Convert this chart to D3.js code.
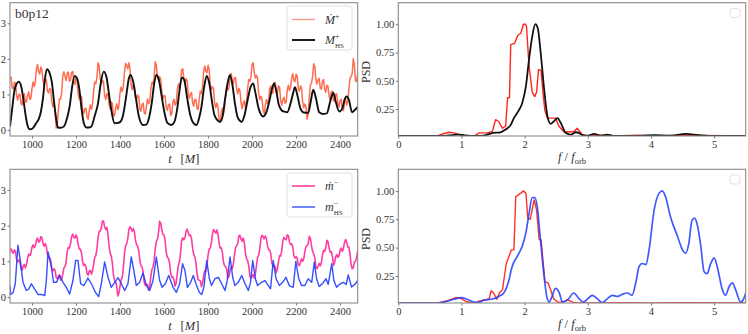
<!DOCTYPE html>
<html><head><meta charset="utf-8">
<script src="https://cdn.jsdelivr.net/npm/d3@7"></script>
<style>
body{margin:0;background:#fff}
svg{display:block}
text{font-family:"Liberation Serif","Times New Roman","DejaVu Serif",serif;fill:#333}
</style>
</head><body>
<svg id="c" width="748" height="334"></svg>
<script>
// ---------- data ----------
const timeStart = 900, timeStep = 5;            // sampling grid of the noisy series
const timeTicks = [1000,1200,1400,1600,1800,2000,2200,2400];
const leftYTicks = [0,1,2,3];
const freqTicks = [0,1,2,3,4,5];
const psdTicks = [0.25,0.5,0.75,1.0];

const mdotPlus = [
1.45,1.48,1.20,1.15,1.34,1.31,0.96,0.84,1.00,1.00,0.75,0.70,0.97,1.02,0.79,0.79,0.98,1.07,0.86,0.89,
1.17,1.35,1.22,1.35,1.72,1.84,1.64,1.57,1.77,1.70,1.38,1.25,1.43,1.41,1.10,1.04,1.17,1.13,0.79,0.65,
0.76,0.56,0.05,0.19,0.57,0.88,0.87,1.06,1.53,1.64,1.50,1.39,1.60,1.63,1.37,1.40,1.62,1.64,1.36,1.28,
1.46,1.38,1.00,0.87,0.97,0.93,0.57,0.45,0.60,0.61,0.37,0.30,0.54,0.70,0.58,0.74,1.10,1.35,1.30,1.47,
1.89,1.81,1.43,1.30,1.40,1.35,0.97,0.86,1.02,1.00,0.73,0.60,0.79,0.74,0.40,0.40,0.60,0.74,0.57,0.68,
1.04,1.21,1.08,1.22,1.60,1.87,1.82,1.72,1.89,1.72,1.30,1.13,1.27,1.23,0.91,0.85,0.98,0.94,0.60,0.53,
0.72,0.75,0.47,0.45,0.67,0.87,0.74,0.80,1.14,1.34,1.30,1.45,1.92,1.83,1.47,1.39,1.50,1.42,1.04,0.88,
0.97,0.95,0.62,0.55,0.72,0.73,0.41,0.46,0.78,0.86,0.70,0.75,1.12,1.29,1.17,1.33,1.69,1.72,1.45,1.32,
1.45,1.38,1.00,0.89,1.02,1.05,0.76,0.67,0.86,0.85,0.60,0.58,0.87,1.09,1.02,1.23,1.64,1.80,1.65,1.61,
1.82,1.70,1.27,1.13,1.22,1.15,0.76,0.62,0.76,0.64,0.28,0.22,0.47,0.61,0.47,0.64,1.00,1.21,1.12,1.18,
1.49,1.59,1.38,1.31,1.47,1.47,1.15,1.02,1.17,1.09,0.76,0.60,0.76,0.82,0.60,0.79,1.17,1.42,1.37,1.48,
1.85,1.89,1.62,1.46,1.54,1.45,1.03,0.85,0.95,0.88,0.57,0.46,0.67,0.85,0.74,0.85,1.16,1.24,1.02,1.04,
1.32,1.34,1.05,1.03,1.24,1.20,0.83,0.70,0.85,0.92,0.75,0.78,1.12,1.26,1.11,1.19,1.46,1.58,1.40,1.36,
1.57,1.52,1.17,1.09,1.24,1.17,0.78,0.62,0.73,0.64,0.30,0.45,0.92,1.26,1.31,1.49,1.86,1.79,1.42,1.29,
1.42,1.45,1.17,1.15,1.37,1.42,1.14,1.06,1.26,1.23,0.95,0.85,1.07,1.09,0.82,0.81,1.00,1.01,0.72,0.65,
0.84,0.86,0.58,0.55,0.75,0.89,0.70,0.79,1.16,1.45,1.50,1.59,2.00,1.83,1.38,1.36,1.60];

const mdotMinus = [
1.30,1.35,1.26,1.23,1.32,1.27,1.05,0.98,1.04,0.98,0.80,0.75,0.86,0.91,0.82,0.91,1.09,1.20,1.16,1.22,
1.40,1.46,1.38,1.43,1.59,1.65,1.54,1.55,1.69,1.66,1.50,1.42,1.50,1.42,1.20,1.11,1.11,1.02,0.79,0.73,
0.79,0.74,0.54,0.51,0.60,0.62,0.47,0.49,0.65,0.81,0.85,0.98,1.27,1.39,1.37,1.49,1.70,1.76,1.67,1.65,
1.74,1.67,1.46,1.34,1.34,1.24,0.98,0.88,0.92,0.85,0.66,0.61,0.72,0.75,0.64,0.73,0.91,1.11,1.16,1.35,
1.66,1.83,1.85,1.93,2.13,2.13,1.97,1.89,1.95,1.76,1.45,1.22,1.15,0.96,0.62,0.47,0.42,0.30,0.03,0.11,
0.30,0.49,0.54,0.82,1.21,1.43,1.49,1.62,1.89,1.97,1.92,1.84,1.92,1.83,1.60,1.47,1.43,1.30,1.03,0.88,
0.84,0.70,0.41,0.32,0.35,0.35,0.19,0.31,0.57,0.77,0.84,1.02,1.35,1.56,1.62,1.82,2.12,2.07,1.87,1.75,
1.74,1.57,1.25,1.11,1.08,0.96,0.67,0.55,0.56,0.49,0.30,0.39,0.64,0.88,0.98,1.23,1.58,1.66,1.60,1.66,
1.84,1.90,1.81,1.72,1.74,1.63,1.36,1.18,1.13,0.95,0.65,0.48,0.47,0.45,0.29,0.40,0.60,0.74,0.73,0.89,
1.17,1.34,1.37,1.51,1.77,1.89,1.84,1.79,1.88,1.76,1.52,1.37,1.38,1.25,0.98,0.87,0.85,0.76,0.53,0.58,
0.74,0.84,0.79,0.93,1.18,1.39,1.43,1.50,1.71,1.73,1.62,1.56,1.65,1.51,1.22,1.07,1.02,0.87,0.58,0.52,
0.58,0.63,0.53,0.65,0.88,1.11,1.17,1.34,1.64,1.73,1.70,1.63,1.71,1.64,1.43,1.33,1.32,1.21,0.95,0.86,
0.88,0.85,0.68,0.78,1.00,1.16,1.15,1.30,1.59,1.67,1.62,1.60,1.74,1.72,1.55,1.47,1.49,1.40,1.16,1.09,
1.13,1.09,0.90,0.88,0.97,1.07,1.00,1.07,1.27,1.42,1.44,1.49,1.70,1.64,1.44,1.28,1.21,1.10,0.84,0.79,
0.86,0.94,0.87,0.97,1.18,1.31,1.28,1.37,1.59,1.55,1.38,1.25,1.27,1.15,0.88,0.96,1.13,1.19,1.11,1.15,
1.31,1.37,1.28,1.35,1.53,1.61,1.53,1.40,1.40,1.21,0.91,0.79,0.82,0.98,0.99,1.10,1.30];

const hsPlus = [[900,0.1],[910,0.6],[920,1.1],[930,1.3],[940,1.36],[950,1.25],[960,0.9],[970,0.45],[980,0.12],[990,0.02],[1000,0.03],[1010,0.1],[1020,0.2],[1030,0.3],[1040,0.5],[1050,0.9],[1058,1.4],[1068,1.71],[1080,1.6],[1090,1.35],[1100,0.8],[1110,0.3],[1118,0.07],[1130,0.06],[1145,0.1],[1160,0.35],[1172,0.7],[1182,1.2],[1194,1.52],[1205,1.45],[1216,1.1],[1225,0.6],[1235,0.2],[1247,0.07],[1260,0.07],[1270,0.1],[1285,0.4],[1300,0.75],[1312,1.3],[1326,1.64],[1338,1.5],[1350,1.0],[1362,0.5],[1375,0.19],[1390,0.2],[1400,0.22],[1415,0.45],[1428,0.95],[1440,1.45],[1448,1.55],[1460,1.35],[1472,0.9],[1485,0.4],[1504,0.14],[1520,0.15],[1530,0.3],[1545,0.8],[1555,1.3],[1565,1.55],[1575,1.45],[1588,1.0],[1600,0.55],[1615,0.2],[1633,0.14],[1645,0.2],[1660,0.6],[1670,1.1],[1681,1.48],[1692,1.4],[1705,0.9],[1718,0.45],[1733,0.2],[1748,0.14],[1760,0.35],[1770,0.65],[1782,1.2],[1794,1.52],[1806,1.3],[1818,0.8],[1830,0.4],[1854,0.23],[1865,0.35],[1878,0.9],[1890,1.35],[1899,1.55],[1910,1.3],[1922,0.75],[1935,0.35],[1953,0.23],[1965,0.4],[1980,0.85],[1993,1.2],[2005,1.31],[2015,1.05],[2030,0.6],[2051,0.38],[2065,0.5],[2080,0.85],[2090,1.15],[2100,1.31],[2110,1.1],[2122,0.7],[2142,0.52],[2160,0.5],[2175,0.75],[2187,1.05],[2195,1.2],[2205,1.0],[2220,0.6],[2235,0.49],[2255,0.48],[2268,0.85],[2278,1.13],[2290,0.9],[2305,0.5],[2325,0.45],[2340,0.47],[2355,0.8],[2369,1.05],[2380,0.8],[2396,0.52],[2410,0.6],[2420,0.85],[2430,0.94],[2440,0.85],[2454,0.5],[2465,0.55],[2480,0.65]];

const hsMinus = [[900,0.32],[903,0.07],[914,0.12],[924,0.37],[936,1.45],[947,1.02],[959,0.41],[974,0.18],[985,0.22],[997,0.37],[1012,0.22],[1027,0.07],[1042,0.07],[1058,0.04],[1065,0.45],[1073,1.26],[1088,0.84],[1098,0.41],[1111,0.41],[1126,0.6],[1141,0.41],[1156,0.27],[1171,0.08],[1186,0.46],[1198,1.02],[1209,1.02],[1221,0.37],[1236,0.32],[1254,0.53],[1270,0.37],[1288,0.13],[1303,0.01],[1315,0.37],[1330,0.98],[1345,0.56],[1360,0.27],[1376,0.41],[1391,0.54],[1406,0.37],[1421,0.18],[1436,0.37],[1451,1.12],[1463,0.74],[1474,0.32],[1489,0.41],[1504,0.67],[1520,0.32],[1535,0.18],[1550,0.46],[1565,1.12],[1580,0.46],[1591,0.27],[1606,0.37],[1621,0.6],[1641,0.27],[1656,0.13],[1671,0.37],[1684,0.93],[1695,0.74],[1706,0.27],[1721,0.41],[1733,0.6],[1745,0.37],[1760,0.13],[1771,0.07],[1781,0.27],[1794,1.02],[1806,0.51],[1816,0.32],[1831,0.51],[1847,0.55],[1862,0.37],[1877,0.18],[1887,0.46],[1900,1.12],[1912,0.55],[1922,0.32],[1937,0.41],[1953,0.6],[1968,0.37],[1983,0.18],[1993,0.41],[2003,1.02],[2015,0.51],[2025,0.32],[2043,0.41],[2059,0.46],[2074,0.32],[2084,0.23],[2096,1.02],[2109,0.51],[2124,0.32],[2139,0.41],[2154,0.55],[2169,0.32],[2187,0.27],[2199,1.0],[2212,0.51],[2225,0.32],[2240,0.32],[2255,0.51],[2271,0.41],[2283,0.98],[2293,0.51],[2305,0.29],[2321,0.38],[2336,0.51],[2346,0.35],[2362,0.93],[2372,0.46],[2384,0.27],[2399,0.36],[2415,0.41],[2428,0.35],[2437,0.62],[2452,0.28],[2468,0.36],[2480,0.46]];

const psdMdotPlus = [[0,0.012],[0.62,0.012],[0.7,0.03],[0.8,0.045],[0.88,0.04],[0.99,0.02],[1.1,0.012],[1.2,0.012],[1.28,0.04],[1.41,0.04],[1.49,0.053],[1.54,0.156],[1.59,0.14],[1.65,0.08],[1.7,0.1],[1.73,0.35],[1.76,0.35],[1.78,0.82],[1.84,0.83],[1.89,0.9],[1.94,0.92],[1.98,1.0],[2.01,1.0],[2.03,0.98],[2.07,0.63],[2.12,0.4],[2.16,0.36],[2.19,0.4],[2.22,0.6],[2.26,0.59],[2.29,0.4],[2.32,0.24],[2.36,0.17],[2.41,0.17],[2.49,0.17],[2.54,0.1],[2.62,0.05],[2.78,0.05],[2.83,0.08],[2.91,0.025],[3.0,0.012],[3.2,0.02],[3.4,0.012],[3.8,0.02],[4.0,0.012],[4.5,0.02],[5.5,0.012]];

const psdHsPlus = [[0,0.012],[0.7,0.012],[0.85,0.02],[0.95,0.025],[1.05,0.018],[1.2,0.012],[1.35,0.015],[1.5,0.04],[1.62,0.045],[1.7,0.07],[1.78,0.11],[1.83,0.17],[1.91,0.24],[1.96,0.3],[2.02,0.45],[2.07,0.69],[2.12,0.89],[2.17,1.0],[2.21,0.96],[2.25,0.77],[2.31,0.42],[2.36,0.19],[2.41,0.12],[2.46,0.14],[2.52,0.17],[2.57,0.13],[2.65,0.04],[2.73,0.025],[2.81,0.045],[2.86,0.04],[2.91,0.02],[3.0,0.015],[3.1,0.03],[3.2,0.015],[3.31,0.025],[3.4,0.013],[3.7,0.012],[4.05,0.02],[4.3,0.015],[4.55,0.03],[4.75,0.02],[5.0,0.012],[5.5,0.012]];

const psdMdotMinus = [[0,0.012],[0.62,0.012],[0.77,0.03],[0.91,0.06],[1.0,0.05],[1.07,0.025],[1.15,0.012],[1.25,0.012],[1.28,0.03],[1.39,0.04],[1.44,0.05],[1.47,0.12],[1.51,0.1],[1.56,0.045],[1.6,0.1],[1.65,0.13],[1.67,0.21],[1.71,0.36],[1.75,0.42],[1.79,0.48],[1.83,0.48],[1.86,0.95],[1.89,0.96],[1.94,0.98],[1.98,1.0],[2.02,0.98],[2.05,0.76],[2.09,0.75],[2.15,0.92],[2.19,0.83],[2.23,0.57],[2.26,0.57],[2.3,0.33],[2.32,0.2],[2.37,0.19],[2.41,0.13],[2.46,0.05],[2.52,0.02],[2.6,0.02],[2.68,0.04],[2.78,0.015],[3.0,0.012],[3.5,0.015],[4.0,0.012],[4.5,0.015],[5.5,0.012]];

const psdHsMinus = [[0,0.012],[0.6,0.012],[0.72,0.02],[0.88,0.045],[1.0,0.06],[1.09,0.045],[1.2,0.02],[1.29,0.02],[1.36,0.04],[1.47,0.045],[1.59,0.07],[1.67,0.1],[1.75,0.21],[1.8,0.33],[1.88,0.42],[1.96,0.51],[2.02,0.63],[2.07,0.8],[2.12,0.94],[2.16,0.94],[2.2,0.86],[2.25,0.57],[2.31,0.24],[2.35,0.07],[2.39,0.02],[2.42,0.05],[2.49,0.14],[2.55,0.1],[2.6,0.02],[2.68,0.04],[2.78,0.1],[2.86,0.05],[2.93,0.02],[3.0,0.05],[3.07,0.08],[3.15,0.05],[3.23,0.015],[3.31,0.05],[3.39,0.08],[3.47,0.07],[3.55,0.09],[3.63,0.1],[3.7,0.08],[3.76,0.19],[3.81,0.33],[3.86,0.36],[3.92,0.35],[3.97,0.48],[4.05,0.83],[4.13,0.98],[4.18,1.0],[4.23,0.95],[4.31,0.77],[4.42,0.6],[4.5,0.48],[4.55,0.45],[4.6,0.54],[4.65,0.74],[4.69,0.76],[4.73,0.71],[4.79,0.51],[4.84,0.29],[4.89,0.27],[4.94,0.35],[5.0,0.41],[5.05,0.33],[5.13,0.13],[5.18,0.08],[5.24,0.16],[5.29,0.19],[5.34,0.13],[5.42,0.02],[5.47,0.05],[5.5,0.1]];

// ---------- layout ----------
const FONT = '"Liberation Serif","Times New Roman","DejaVu Serif",serif';
const svg = d3.select("#c");
const L = {x0:10, x1:357.7}, R = {x0:398.3, x1:745.7};
const rows = [{y0:2.7, y1:136}, {y0:169.3, y1:303}];

const xT = d3.scaleLinear().domain([900,2480]).range([L.x0,L.x1]);
const xF = d3.scaleLinear().domain([0,5.5]).range([R.x0,R.x1]);
const yL = rows.map(r => d3.scaleLinear().domain([-0.17,3.58]).range([r.y1,r.y0]));
const yR = rows.map(r => d3.scaleLinear().domain([0.012,1.19]).range([r.y1,r.y0]));

let clipId = 0;
function panel(x, y, r, xTicks, yTicks, yFmt) {
  const id = "cp" + (clipId++);
  svg.append("clipPath").attr("id", id).append("rect")
    .attr("x", x.range()[0]).attr("y", r.y0)
    .attr("width", x.range()[1]-x.range()[0]).attr("height", r.y1-r.y0);
  const ax = svg.append("g").attr("transform", `translate(0,${r.y1})`)
    .call(d3.axisBottom(x).tickValues(xTicks).tickSize(2.5).tickPadding(2).tickFormat(d3.format("d")));
  const ay = svg.append("g").attr("transform", `translate(${x.range()[0]},0)`)
    .call(d3.axisLeft(y).tickValues(yTicks).tickSize(2.5).tickPadding(1.5).tickFormat(yFmt));
  [ax, ay].forEach(g => {
    g.attr("font-family", null);
    g.select(".domain").remove();
    g.selectAll(".tick line").attr("stroke", "#777");
    g.selectAll(".tick text").attr("font-size", 10.5).attr("fill", "#444")
      .style("font-family", FONT);
  });
  const body = svg.append("g").attr("clip-path", `url(#${id})`);
  svg.append("rect").attr("x", x.range()[0]).attr("y", r.y0)
    .attr("width", x.range()[1]-x.range()[0]).attr("height", r.y1-r.y0)
    .attr("fill", "none").attr("stroke", "#8a8a8a").attr("stroke-width", 1.1);
  return body;
}

function drawLine(g, data, x, y, color, w, op, curve) {
  g.append("path").datum(data)
    .attr("d", d3.line().x(d => x(d[0])).y(d => y(d[1])).curve(curve || d3.curveLinear))
    .attr("fill", "none").attr("stroke", color).attr("stroke-width", w)
    .attr("stroke-opacity", op).attr("stroke-linejoin", "round");
}
const gridded = arr => arr.map((v, i) => [timeStart + i*timeStep, v]);

// ---------- top-left ----------
const tl = panel(xT, yL[0], rows[0], timeTicks, leftYTicks, d3.format("d"));
drawLine(tl, gridded(mdotPlus), xT, yL[0], "#ff4420", 1.5, 0.78);
drawLine(tl, hsPlus, xT, yL[0], "#111", 1.9, 1, d3.curveMonotoneX);

// ---------- bottom-left ----------
const bl = panel(xT, yL[1], rows[1], timeTicks, leftYTicks, d3.format("d"));
drawLine(bl, gridded(mdotMinus), xT, yL[1], "#ff1a90", 1.6, 0.85);
drawLine(bl, hsMinus, xT, yL[1], "#1f3cff", 1.4, 0.9);

// ---------- top-right ----------
const tr = panel(xF, yR[0], rows[0], freqTicks, psdTicks, d3.format(".2f"));
drawLine(tr, psdMdotPlus, xF, yR[0], "#ff1a10", 1.4, 0.95);
drawLine(tr, psdHsPlus, xF, yR[0], "#111", 1.8, 1, d3.curveMonotoneX);

// ---------- bottom-right ----------
const br = panel(xF, yR[1], rows[1], freqTicks, psdTicks, d3.format(".2f"));
drawLine(br, psdMdotMinus, xF, yR[1], "#ff1a10", 1.4, 0.9);
drawLine(br, psdHsMinus, xF, yR[1], "#1f3cff", 1.7, 0.85, d3.curveMonotoneX);

// ---------- labels ----------
function tLabel(cy) {
  const t = svg.append("text").attr("x", (L.x0+L.x1)/2).attr("y", cy)
    .attr("text-anchor", "middle").attr("font-size", 12.5).attr("fill", "#333");
  t.append("tspan").attr("font-style", "italic").text("t");
  t.append("tspan").text("\u2002\u2009[");
  t.append("tspan").attr("font-style", "italic").text("M");
  t.append("tspan").text("]");
}
function fLabel(cy) {
  const t = svg.append("text").attr("x", (R.x0+R.x1)/2).attr("y", cy)
    .attr("text-anchor", "middle").attr("font-size", 12.5).attr("fill", "#333");
  t.append("tspan").attr("font-style", "italic").text("f");
  t.append("tspan").text(" / ");
  t.append("tspan").attr("font-style", "italic").text("f");
  t.append("tspan").attr("font-size", 8.5).attr("dy", 3).text("orb");
}
function psdLabel(cy) {
  svg.append("text").attr("transform", `translate(370,${cy}) rotate(-90)`)
    .attr("text-anchor", "middle").attr("font-size", 12).attr("fill", "#333").text("PSD");
}
tLabel(162.5); tLabel(329.5);
fLabel(161); fLabel(328);
psdLabel(72); psdLabel(239);

svg.append("text").attr("x", 15).attr("y", 18).attr("font-size", 13.5).attr("fill", "#333").text("b0p12");

// ---------- legends ----------
function legendBox(x, y, w, h) {
  svg.append("rect").attr("x", x).attr("y", y).attr("width", w).attr("height", h)
    .attr("rx", 2.5).attr("fill", "#fff").attr("fill-opacity", 0.85)
    .attr("stroke", "#dcdcdc").attr("stroke-width", 0.9);
}
function legendEntry(y, color, w, op, main, sup, sub) {
  svg.append("line").attr("x1", 292).attr("x2", 315).attr("y1", y).attr("y2", y)
    .attr("stroke", color).attr("stroke-width", w).attr("stroke-opacity", op);
  const t = svg.append("text").attr("x", 325).attr("y", y + 4).attr("font-size", 12).attr("fill", "#333");
  t.append("tspan").attr("font-style", "italic").text(main);
  t.append("tspan").attr("font-size", 8).attr("dy", -5).text(sup);
  if (sub) t.append("tspan").attr("font-size", 7).attr("dx", -4.5).attr("dy", 9).text(sub);
}
legendBox(287, 6, 65, 44);
legendEntry(19.5, "#ff4420", 1.3, 0.55, "\u1E40", "+", null);
legendEntry(40, "#111", 1.9, 1, "M", "+", "HS");
legendBox(287, 173, 65, 44);
legendEntry(186, "#ff1a90", 1.6, 0.85, "\u1E41", "\u2212", null);
legendEntry(207, "#1f3cff", 1.4, 0.9, "m", "\u2212", "HS");

legendBox(730, 8.5, 10, 9);
legendBox(730, 175, 10, 9);
</script>
</body></html>
